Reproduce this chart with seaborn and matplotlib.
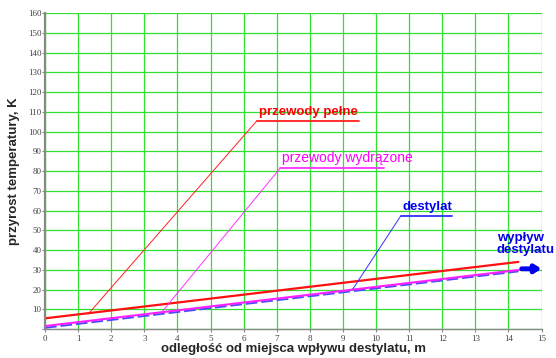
import numpy as np
import pandas as pd
import seaborn as sns
import matplotlib.pyplot as plt

# main curves (distance in m, temperature rise in K)
x_main = [0.0, 14.3]
red_full = [5.4, 34.0]
magenta_hollow = [1.5, 29.9]
blue_distillate = [0.6, 29.2]

# leader lines to labels: start on curve, kink, end of underline
red_leader_x = [1.3, 6.4, 9.5]
red_leader_y = [7.5, 105.5, 105.5]
mag_leader_x = [3.5, 7.1, 10.25]
mag_leader_y = [8.0, 81.4, 81.4]
blue_leader_x = [9.3, 10.75, 12.3]
blue_leader_y = [20.3, 57.4, 57.4]

arrow_x = [14.4, 15.0]
arrow_y = [30.5, 30.5]

labels = ["przewody pełne", "przewody wydrążone", "destylat"]
outflow_label = "wypływ\ndestylatu"

x_ticks = list(range(0, 16))
y_ticks = list(range(0, 161, 10))

sns.set_style("white")
plt.rcParams['font.family'] = ['Liberation Sans', 'DejaVu Sans']

fig = plt.figure(figsize=(5.56, 3.58), dpi=100)
ax = fig.add_axes([0.081, 0.081, 0.893, 0.882])

df = pd.DataFrame({"x": x_main * 3,
                   "y": red_full + magenta_hollow + blue_distillate,
                   "s": ["red"] * 2 + ["magenta"] * 2 + ["blue"] * 2})

sns.lineplot(data=df[df.s == "blue"], x="x", y="y", color="#4a4aff", lw=1.4,
             linestyle=(0, (6, 2)), ax=ax, legend=False)
sns.lineplot(data=df[df.s == "magenta"], x="x", y="y", color="#ff20ff", lw=1.5, ax=ax, legend=False)
sns.lineplot(data=df[df.s == "red"], x="x", y="y", color="#ff1010", lw=1.6, ax=ax, legend=False)

# leaders: thin slanted part + underline
for lx, ly, c in [(red_leader_x, red_leader_y, "#ff2020"),
                  (mag_leader_x, mag_leader_y, "#ff30ff"),
                  (blue_leader_x, blue_leader_y, "#3030ff")]:
    ax.plot(lx[:2], ly[:2], color=c, lw=0.7)
    ax.plot(lx[1:], ly[1:], color=c, lw=1.3)

ax.text(red_leader_x[1] + 0.05, red_leader_y[1] + 1.5, labels[0], color="#ff0000",
        fontsize=9.5, fontweight="bold", ha="left", va="bottom")
ax.text(mag_leader_x[1] + 0.05, mag_leader_y[1] + 1.5, labels[1], color="#ff00ff",
        fontsize=10, ha="left", va="bottom")
ax.text(blue_leader_x[1] + 0.05, blue_leader_y[1] + 1.5, labels[2], color="#0000ee",
        fontsize=9.5, fontweight="bold", ha="left", va="bottom")
ax.text(13.65, 37, outflow_label, color="#0000ee", fontsize=9.5, fontweight="bold",
        ha="left", va="bottom", linespacing=1.0)

ax.annotate("", xy=(arrow_x[1], arrow_y[1]), xytext=(arrow_x[0], arrow_y[0]),
            arrowprops=dict(arrowstyle="-|>,head_width=0.22,head_length=0.35",
                            color="#0000ee", lw=3.5, shrinkA=0, shrinkB=0),
            annotation_clip=False)

ax.set_xlim(0, 15)
ax.set_ylim(0, 160)
ax.set_xticks(x_ticks)
ax.set_yticks(y_ticks)
ax.set_xticklabels([str(t) for t in x_ticks], family="Liberation Serif", fontsize=6.5, color="#444444")
ax.set_yticklabels([str(t) if t else "" for t in y_ticks], family="Liberation Serif", fontsize=6.5, color="#444444")
ax.grid(True, color="#30e030", lw=0.9)
ax.set_axisbelow(True)
for s in ["top", "right"]:
    ax.spines[s].set_visible(False)
ax.spines["left"].set_color("#888888")
ax.spines["left"].set_linewidth(1.6)
ax.spines["bottom"].set_color("#888888")
ax.spines["bottom"].set_linewidth(1.0)
ax.tick_params(axis="both", length=2.5, width=0.8, color="#888888", direction="out")
ax.tick_params(axis="x", bottom=True, pad=1.5)
ax.tick_params(axis="y", left=True, pad=0)

ax.set_xlabel("odległość od miejsca wpływu destylatu, m", fontsize=9.5, fontweight="bold", labelpad=0)
ax.set_ylabel("przyrost temperatury, K", fontsize=9.5, fontweight="bold", labelpad=6)

fig.savefig("out.png", dpi=100)
